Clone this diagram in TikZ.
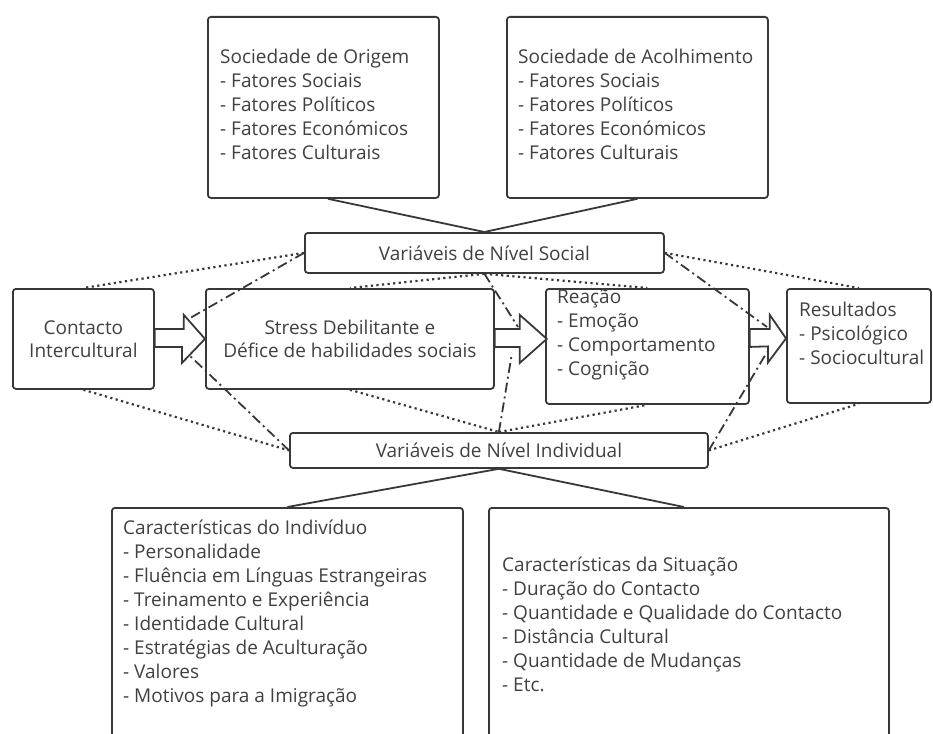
\documentclass[tikz,border=0pt]{standalone}
\usepackage{fontspec}
\setmainfont{Open Sans}
\usetikzlibrary{calc}
\definecolor{ink}{HTML}{383838}
\definecolor{txt}{HTML}{404040}
\newcommand{\diagfont}{\fontsize{19}{24}\selectfont}

\begin{document}
\begin{tikzpicture}[x=1pt,y=-1pt,
  box/.style={draw=ink, line width=1.8pt, rounded corners=3pt, inner sep=0pt,
    anchor=north west, text=txt, font=\diagfont, align=center},
  list/.style={inner sep=0pt, anchor=north west, align=left, text=txt, font=\diagfont,
    execute at begin node=\strut},
  link/.style={draw=ink, line width=1.8pt},
  dotline/.style={draw=ink, line width=2.2pt, dash pattern=on 2.2pt off 3.4pt},
  dashdotline/.style={draw=ink, line width=1.8pt, dash pattern=on 10pt off 4pt on 2pt off 4pt},
  blockarrow/.style={draw=ink, line width=1.8pt, fill=white, line join=miter}]

\useasboundingbox (0,0) rectangle (933,733);
\clip (0,0) rectangle (933,733);

% ---- upper societies ----
\node[box, minimum width=231pt, minimum height=181pt] (orig) at (207,16) {};
\node[list] (origtxt) at (220,49) {Sociedade de Origem\\- Fatores Sociais\\- Fatores Políticos\\- Fatores Económicos\\- Fatores Culturais};
\node[box, minimum width=261pt, minimum height=181pt] (acol) at (506,16) {};
\node[list] (acoltxt) at (518,49) {Sociedade de Acolhimento\\- Fatores Sociais\\- Fatores Políticos\\- Fatores Económicos\\- Fatores Culturais};

% ---- social and individual level variables ----
\node[box, minimum width=359pt, minimum height=40pt] (social) at (304,232) {Variáveis de Nível Social};
\node[box, minimum width=418pt, minimum height=35pt] (indiv) at (289,432) {Variáveis de Nível Individual};

% ---- main process row ----
\node[box, minimum width=141pt, minimum height=100pt, font=\fontsize{19}{23}\selectfont] (cont) at (12,288) {Contacto\\Intercultural};
\node[box, minimum width=288pt, minimum height=100pt, font=\fontsize{19}{23}\selectfont] (stress) at (205,288) {Stress Debilitante e\\Défice de habilidades sociais};
\node[box, minimum width=203pt, minimum height=115pt] (reac) at (545,288) {};
\node[list] (reactxt) at (557,289) {Reação\\- Emoção\\- Comportamento\\- Cognição};
\node[box, minimum width=144pt, minimum height=114pt] (res) at (786,288) {};
\node[list] (restxt) at (799,302) {Resultados\\- Psicológico\\- Sociocultural};

% ---- lower characteristics ----
\node[box, minimum width=351pt, minimum height=260pt] (ind) at (111,507) {};
\node[list] (indtxt) at (123,520) {Características do Indivíduo\\- Personalidade\\- Fluência em Línguas Estrangeiras\\- Treinamento e Experiência\\- Identidade Cultural\\- Estratégias de Aculturação\\- Valores\\- Motivos para a Imigração};
\node[box, minimum width=400pt, minimum height=260pt] (sit) at (488,507) {};
\node[list] (sittxt) at (502,557) {Características da Situação\\- Duração do Contacto\\- Quantidade e Qualidade do Contacto\\- Distância Cultural\\- Quantidade de Mudanças\\- Etc.};

% ---- solid links ----
\draw[link] ($(orig.south)+(4.5,0)$) -- (social.north);
\draw[link] (acol.south) -- (social.north);
\draw[link] (indiv.south) -- (ind.north);
\draw[link] (indiv.south) -- ($(sit.north)+(-5,0)$);

% ---- dotted links ----
\draw[dotline] (social.west) -- (cont.north);
\draw[dotline] (social.east) -- (res.north);
\draw[dotline] (cont.south) -- (indiv.west);
\draw[dotline] (indiv.east) -- (res.south);
\draw[dotline] (social.south) -- (stress.north);
\draw[dotline] (social.south) -- (reac.north);
\draw[dotline] (stress.south) -- (indiv.north);
\draw[dotline] (indiv.north) -- (reac.south);

% ---- end points of the dash-dot links near the block arrows ----
\coordinate (a1t) at (185,321);
\coordinate (a1b) at (187,353);
\coordinate (a2t) at (518,327);
\coordinate (a2b) at (512,353);
\coordinate (a3t) at (767,327);
\coordinate (a3b) at (767,352);

\draw[dashdotline] (social.west) -- (a1t);
\draw[dashdotline] (indiv.west) -- (a1b);
\draw[dashdotline] (social.south) -- (a2t);
\draw[dashdotline] (indiv.north) -- (a2b);
\draw[dashdotline] (social.east) -- (a3t);
\draw[dashdotline] (indiv.east) -- (a3b);

% ---- hollow block arrows ----
\draw[blockarrow] ($(cont.east)+(0,-10)$) -- ++(29,0) -- ++(0,-14) -- (stress.west)
  -- ++(-23,24) -- ++(0,-16) -- ($(cont.east)+(0,8)$) -- cycle;
\draw[blockarrow] ($(stress.east)+(0,-10)$) -- ++(25,0) -- ++(0,-14) -- ($(stress.east)+(52,0)$)
  -- ++(-27,24) -- ++(0,-16) -- ($(stress.east)+(0,8)$) -- cycle;
\draw[blockarrow] ($(reac.east)+(0,-17.5)$) -- ++(20,0) -- ++(0,-14) -- ($(res.west)+(0,-7.5)$)
  -- ++(-18,24) -- ++(0,-16) -- ($(reac.east)+(0,0.5)$) -- cycle;
\end{tikzpicture}
\end{document}
